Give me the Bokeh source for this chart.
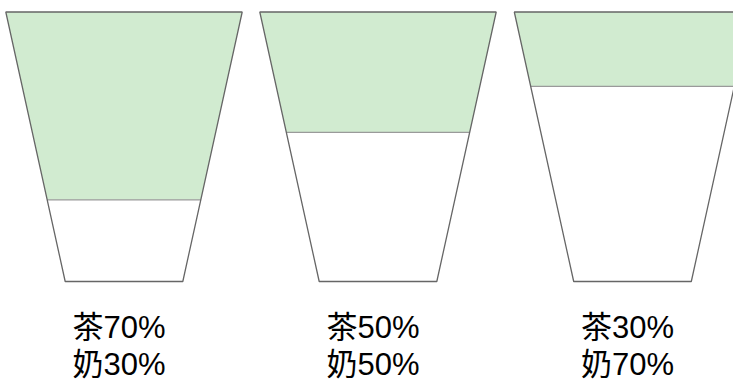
from bokeh.plotting import figure
from bokeh.models import Range1d
from bokeh.core.properties import value
from bokeh.embed import file_html
from bokeh.resources import INLINE

# ---- data ----
tea_pct = [70, 50, 30]
milk_pct = [30, 50, 70]
tea_level = [0.697, 0.447, 0.276]   # fill depth of tea from the cup rim (fraction of height)

# ---- layout constants (pixel-like data units) ----
W, H = 733, 382
centers = [123.5, 377.5, 632.0]
top_y, bot_y = 11.5, 281.0
top_hw, bot_hw = 118.2, 58.8
text_dx = -5

p = figure(width=W, height=H, output_backend="svg", toolbar_location=None,
           x_range=Range1d(0, W), y_range=Range1d(H, 0), min_border=0,
           outline_line_color=None)
p.axis.visible = False
p.grid.visible = False
p.background_fill_color = "white"
p.border_fill_color = "white"

def hw_at(f):
    return top_hw - (top_hw - bot_hw) * f

tea_xs, tea_ys, cup_xs, cup_ys = [], [], [], []
lx0, lx1, ly = [], [], []
for c, f in zip(centers, tea_level):
    yf = top_y + f * (bot_y - top_y)
    hf = hw_at(f)
    tea_xs.append([c - top_hw, c + top_hw, c + hf, c - hf])
    tea_ys.append([top_y, top_y, yf, yf])
    cup_xs.append([c - top_hw, c + top_hw, c + bot_hw, c - bot_hw])
    cup_ys.append([top_y, top_y, bot_y, bot_y])
    lx0.append(c - hf); lx1.append(c + hf); ly.append(yf)

p.patches(tea_xs, tea_ys, fill_color="#d1ebd0", line_color=None)
p.segment(lx0, ly, lx1, ly, line_color="#9a9a9a", line_width=1.2)
p.patches(cup_xs, cup_ys, fill_color=None, line_color="#666666", line_width=1.3)

font = value("Liberation Sans, Noto Sans CJK SC")
tx = [c + text_dx for c in centers]
p.text(tx, [327] * 3, text=[f"茶{v}%" for v in tea_pct], text_align="center",
       text_baseline="middle", text_font=font, text_font_size="31px", text_color="#000000")
p.text(tx, [364] * 3, text=[f"奶{v}%" for v in milk_pct], text_align="center",
       text_baseline="middle", text_font=font, text_font_size="31px", text_color="#000000")

open("out.html", "w").write(file_html(p, INLINE))
